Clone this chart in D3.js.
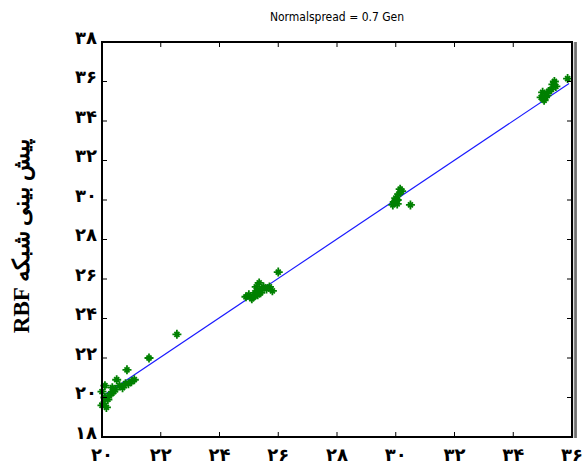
<!DOCTYPE html>
<html>
<head>
<meta charset="utf-8">
<script src="https://cdn.jsdelivr.net/npm/d3@7"></script>
<style>
body { margin: 0; background: #fff; }
svg { display: block; }
</style>
</head>
<body>
<svg width="585" height="464"></svg>
<script>
// targets (x) vs RBF network predictions (y)
var xTicks = [20, 22, 24, 26, 28, 30, 32, 34, 36];
var yTicks = [18, 20, 22, 24, 26, 28, 30, 32, 34, 36, 38];
var fitLine = [[20, 20.05], [35.9, 35.9]];
var ptsX = [20.0, 20.05, 20.1, 20.15, 20.2, 20.0, 20.3, 20.35, 20.5, 20.45, 20.6, 20.7, 20.8, 20.85, 21.0, 21.1, 20.9, 21.6, 20.25, 20.4, 20.1,
            22.55,
            24.9, 25.0, 25.1, 25.2, 25.25, 25.3, 25.35, 25.2, 25.45, 25.5, 25.6, 25.3, 25.8, 25.7, 26.0, 25.4,
            29.9, 29.95, 30.0, 30.05, 30.1, 30.15, 30.2, 30.05, 30.5, 30.0,
            34.95, 35.0, 35.05, 35.15, 35.2, 35.3, 35.35, 35.4, 35.45, 35.1, 35.85];
var ptsY = [20.3, 19.7, 20.0, 19.5, 19.9, 19.6, 20.2, 20.5, 20.9, 20.4, 20.6, 20.5, 20.7, 21.4, 20.8, 20.9, 20.7, 22.0, 20.1, 20.3, 20.6,
            23.2,
            25.1, 25.2, 25.0, 25.3, 25.6, 25.4, 25.8, 25.15, 25.5, 25.6, 25.5, 25.2, 25.4, 25.6, 26.35, 25.3,
            29.75, 29.9, 30.1, 29.8, 30.3, 30.55, 30.45, 30.0, 29.75, 29.95,
            35.2, 35.45, 35.05, 35.3, 35.5, 35.6, 35.85, 36.0, 35.75, 35.2, 36.15];

function draw(){
    var fa = function(n){ return String(n).replace(/[0-9]/g, function(c){ return "۰۱۲۳۴۵۶۷۸۹"[+c]; }); };

    var svg = d3.select("svg");
    var x0 = 102, x1 = 572, y0 = 42, y1 = 437;
    var x = d3.scaleLinear().domain([20, 36]).range([x0, x1]);
    var y = d3.scaleLinear().domain([18, 38]).range([y1, y0]);

    // title
    svg.append("text")
        .attr("x", 337).attr("y", 21)
        .attr("text-anchor", "middle")
        .attr("font-family", "DejaVu Sans Condensed, DejaVu Sans")
        .attr("font-size", 12)
        .text("Normalspread = 0.7 Gen");

    // fit line
    svg.append("line")
        .attr("x1", x(fitLine[0][0])).attr("y1", y(fitLine[0][1]))
        .attr("x2", x(fitLine[1][0])).attr("y2", y(fitLine[1][1]))
        .attr("stroke", "#1a1aff").attr("stroke-width", 1.2);

    // star markers
    var pts = d3.zip(ptsX, ptsY);
    var s = 4.5;
    svg.append("g").selectAll("path")
        .data(pts)
        .enter().append("path")
        .attr("transform", d => "translate(" + x(d[0]) + "," + y(d[1]) + ")")
        .attr("d", "M" + (-s) + ",0H" + s + "M0," + (-s) + "V" + s +
                   "M-2.5,-2.5L2.5,2.5M-2.5,2.5L2.5,-2.5")
        .attr("stroke", "#008000")
        .attr("stroke-width", 1.8)
        .attr("fill", "none");

    // box
    svg.append("rect")
        .attr("x", x0).attr("y", y0)
        .attr("width", x1 - x0).attr("height", y1 - y0)
        .attr("fill", "none").attr("stroke", "#000").attr("stroke-width", 2);
    svg.append("line")
        .attr("x1", x1 + 2.5).attr("x2", x1 + 2.5)
        .attr("y1", y0).attr("y2", y1 + 1)
        .attr("stroke", "#888").attr("stroke-width", 1.5);
    svg.append("line")
        .attr("x1", x1 + 4).attr("x2", x1 + 4)
        .attr("y1", y0).attr("y2", y1 + 1)
        .attr("stroke", "#000").attr("stroke-width", 1);

    // inner ticks
    var tk = 5;
    var g = svg.append("g").attr("stroke", "#000").attr("stroke-width", 1);
    xTicks.slice(1, -1).forEach(function(v){
        g.append("line").attr("x1", x(v)).attr("x2", x(v)).attr("y1", y1).attr("y2", y1 - tk);
        g.append("line").attr("x1", x(v)).attr("x2", x(v)).attr("y1", y0).attr("y2", y0 + tk);
    });
    yTicks.slice(1, -1).forEach(function(v){
        g.append("line").attr("y1", y(v)).attr("y2", y(v)).attr("x1", x0).attr("x2", x0 + tk);
        g.append("line").attr("y1", y(v)).attr("y2", y(v)).attr("x1", x1).attr("x2", x1 - tk);
    });

    // tick labels
    svg.append("g").selectAll("text")
        .data(xTicks)
        .enter().append("text")
        .attr("x", d => x(d))
        .attr("y", 461)
        .attr("text-anchor", "middle")
        .attr("font-family", "DejaVu Sans")
        .attr("font-weight", "bold")
        .attr("font-size", 18)
        .text(d => fa(d));
    svg.append("g").selectAll("text")
        .data(yTicks)
        .enter().append("text")
        .attr("x", 97)
        .attr("y", d => y(d))
        .attr("dy", "0.1em")
        .attr("text-anchor", "end")
        .attr("font-family", "DejaVu Sans")
        .attr("font-weight", "bold")
        .attr("font-size", 18)
        .text(d => fa(d));

    // y label
    svg.append("text")
        .attr("transform", "translate(29,236) rotate(-90)")
        .attr("text-anchor", "middle")
        .attr("font-family", "Liberation Serif, DejaVu Serif")
        .attr("font-weight", "bold")
        .attr("font-size", 23)
        .text("RBF پیش بینی شبکه");
}
draw();
</script>
</body>
</html>
